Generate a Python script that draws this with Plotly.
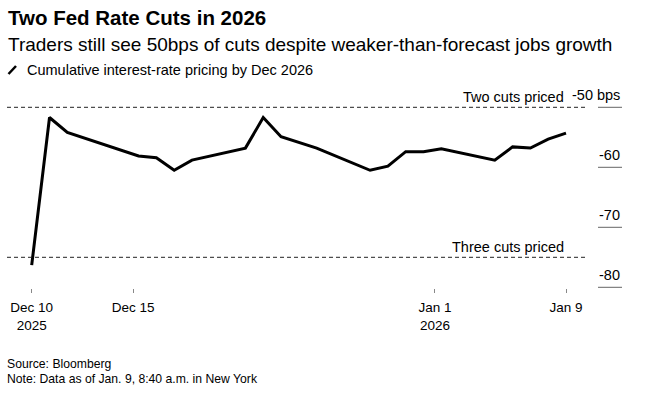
import plotly.graph_objects as go
from datetime import datetime, timedelta

# ---- data ----
dates = ["2025-12-10", "2025-12-11", "2025-12-12", "2025-12-16", "2025-12-17",
         "2025-12-18", "2025-12-19", "2025-12-22", "2025-12-23", "2025-12-24",
         "2025-12-26", "2025-12-29", "2025-12-30", "2025-12-31", "2026-01-01",
         "2026-01-02", "2026-01-05", "2026-01-06", "2026-01-07", "2026-01-08",
         "2026-01-09"]
pricing_bps = [-76.3, -51.7, -54.2, -58.1, -58.4,
               -60.5, -58.8, -56.8, -51.7, -54.9,
               -56.8, -60.5, -59.8, -57.4, -57.4,
               -56.9, -58.8, -56.6, -56.8, -55.3,
               -54.3]
x_tick_vals = ["2025-12-10", "2025-12-15 16:48", "2026-01-01 15:20", "2026-01-09"]
x_tick_text = ["Dec 10<br>2025", "Dec 15", "Jan 1<br>2026", "Jan 9"]
y_tick_vals = [-50, -60, -70, -80]
y_tick_text = ["-50 bps", "-60", "-70", "-80"]
ref_levels = [-50, -75]
ref_labels = ["Two cuts priced", "Three cuts priced"]

# ---- layout geometry (pixels) ----
W, H = 662, 399
ML, MR, MT, MB = 7, 40, 85, 99
PW = W - ML - MR
PH = H - MT - MB
FONT = "Liberation Sans, Arial, sans-serif"


def px_x(X):
    return (X - ML) / PW


def px_y(Y):
    return (H - MB - Y) / PH


# y scale: -50 at 107.3px, 6 px per bp
y_top = -50 + (107.3 - MT) / 6.0
y_bot = -50 - (H - MB - 107.3) / 6.0
# x scale: Dec 10 at 31.7px, 17.81 px per day
d0 = datetime(2025, 12, 10)
x_left = d0 + timedelta(days=(ML - 31.7) / 17.81)
x_right = d0 + timedelta(days=(ML + PW - 31.7) / 17.81)

fig = go.Figure()
fig.add_trace(go.Scatter(
    x=dates, y=pricing_bps, mode="lines",
    line=dict(color="#000000", width=3),
    hoverinfo="skip", showlegend=False,
))

shapes = []
annotations = []

# reference dashed lines
for lvl, lab in zip(ref_levels, ref_labels):
    shapes.append(dict(type="line", xref="paper", yref="y",
                       x0=0, x1=px_x(587), y0=lvl, y1=lvl,
                       line=dict(color="#222222", width=1, dash="4px,3px")))
    annotations.append(dict(xref="paper", yref="y", x=px_x(566), y=lvl,
                            xanchor="right", yanchor="bottom", yshift=0,
                            text=lab, showarrow=False,
                            font=dict(family=FONT, size=14.5, color="#000")))

# y tick labels above short grid segments
for v, t in zip(y_tick_vals, y_tick_text):
    shapes.append(dict(type="line", xref="paper", yref="y",
                       x0=px_x(598), x1=1, y0=v, y1=v,
                       line=dict(color="#666666", width=1)))
    annotations.append(dict(xref="paper", yref="y", x=1, y=v,
                            xanchor="right", yanchor="bottom", yshift=2,
                            text=t, showarrow=False,
                            font=dict(family=FONT, size=14.5, color="#000")))

# legend icon
shapes.append(dict(type="line", xref="paper", yref="paper",
                   x0=px_x(8.5), y0=px_y(74), x1=px_x(16), y1=px_y(66),
                   line=dict(color="#000", width=2.5)))

# texts
annotations += [
    dict(xref="paper", yref="paper", x=px_x(6), y=px_y(17), xanchor="left",
         yanchor="middle", text="<b>Two Fed Rate Cuts in 2026</b>", showarrow=False,
         font=dict(family=FONT, size=20.5, color="#000")),
    dict(xref="paper", yref="paper", x=px_x(6), y=px_y(45), xanchor="left",
         yanchor="middle",
         text="Traders still see 50bps of cuts despite weaker-than-forecast jobs growth",
         showarrow=False, font=dict(family=FONT, size=19, color="#000")),
    dict(xref="paper", yref="paper", x=px_x(25), y=px_y(70), xanchor="left",
         yanchor="middle", text="Cumulative interest-rate pricing by Dec 2026",
         showarrow=False, font=dict(family=FONT, size=14.5, color="#000")),
    dict(xref="paper", yref="paper", x=px_x(5), y=px_y(364), xanchor="left",
         yanchor="middle", text="Source: Bloomberg",
         showarrow=False, font=dict(family=FONT, size=12.2, color="#000")),
    dict(xref="paper", yref="paper", x=px_x(5), y=px_y(379), xanchor="left",
         yanchor="middle", text="Note: Data as of Jan. 9, 8:40 a.m. in New York",
         showarrow=False, font=dict(family=FONT, size=12.2, color="#000")),
]

fig.update_layout(
    width=W, height=H,
    margin=dict(l=ML, r=MR, t=MT, b=MB, pad=0),
    paper_bgcolor="white", plot_bgcolor="white",
    showlegend=False,
    shapes=shapes, annotations=annotations,
    xaxis=dict(type="date", range=[x_left, x_right],
               anchor="free", position=px_y(288),
               tickvals=x_tick_vals, ticktext=x_tick_text,
               ticks="outside", ticklen=4, tickwidth=1, tickcolor="#888888",
               ticklabelstandoff=3,
               showgrid=False, zeroline=False, showline=False,
               tickfont=dict(family=FONT, size=13.5, color="#000"),
               fixedrange=True),
    yaxis=dict(range=[y_bot, y_top], showticklabels=False, ticks="",
               showgrid=False, zeroline=False, showline=False,
               fixedrange=True),
)

fig.write_html("out.html", config={"displayModeBar": False},
               post_script="document.body.style.margin='0';")
